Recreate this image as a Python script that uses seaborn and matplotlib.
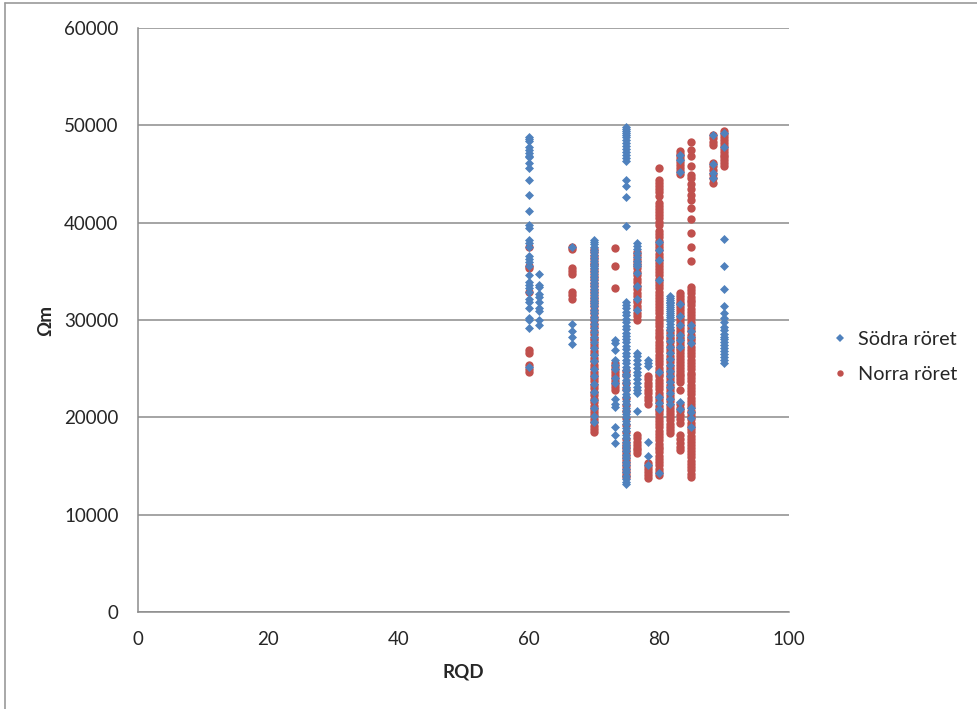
import matplotlib
matplotlib.use("Agg")
import matplotlib.pyplot as plt
from matplotlib.lines import Line2D
import seaborn as sns
import pandas as pd

# ---------------- data ----------------
series_names = ["Södra röret", "Norra röret"]
x_ticks = [0, 20, 40, 60, 80, 100]
y_ticks = [0, 10000, 20000, 30000, 40000, 50000, 60000]

# Södra röret (blue) – Ωm values per RQD level
sodra_60 = [48800, 48600, 48400, 47800, 47500, 47200, 46900, 46700, 46100, 45600, 44400, 42800,
            41200, 39800, 39500, 38200, 37900, 37500, 36600, 36300, 36000, 35500, 34600, 33900,
            33600, 33300, 32900, 32200, 31900, 31200, 30200, 30000, 29200, 25200]
sodra_61 = [34700, 33600, 33400, 32700, 32400, 31900, 31200, 30900, 30000, 29500]
sodra_66 = [37500, 29600, 28900, 28300, 27500]
sodra_70 = [38200, 38000, 37800, 37500, 37200, 37000, 36700, 36400, 36100, 35800, 35500, 35300,
            35000, 34700, 34400, 34100, 33800, 33500, 33200, 32900, 32600, 32300, 32000, 31700,
            31400, 31000, 30700, 30300, 30000, 29600, 29200, 28800, 28300, 27700, 27100, 26400,
            25800, 25000, 24200, 23400, 22600, 21800, 21000, 20100, 19500]
sodra_73 = [27900, 27600, 26900, 25900, 25400, 25000, 24000, 23500, 21900, 21400, 21100, 19000,
            18200, 17400]
sodra_75 = [49800, 49600, 49400, 49200, 49000, 48800, 48500, 48200, 47900, 47600, 47300, 47000,
            46600, 46300, 44400, 43800, 42600, 39700,
            31900, 31500, 31200, 30800, 30500, 30100, 29800, 29400, 29100, 28700, 28400, 28000,
            27700, 27300, 27000, 26600, 26300, 25900, 25600, 25200, 24900, 24500, 24200, 23800,
            23500, 23100, 22800, 22400, 22100, 21700, 21400, 21000, 20700, 20300, 20000, 19600,
            19300, 18900, 18600, 18200, 17900, 17500, 17200, 16800, 16500, 16100, 15800, 15400,
            15100, 14700, 14400, 14000, 13700, 13400, 13200]
sodra_76 = [37900, 37600, 37300, 36900, 36500, 36100, 35800, 35500, 34800, 33500, 32200, 31000,
            26600, 26300, 25900, 25500, 25100, 24700, 24300, 23900, 23500, 23100, 22800, 22500,
            20600]
sodra_78 = [25900, 25600, 25300, 17500, 16000, 15100]
sodra_80 = [38000, 37200, 36200, 34100, 24700, 22100, 21500, 20900, 14300]
sodra_81 = [32500, 32300, 32100, 31900, 31700, 31500, 31300, 31100, 30900, 30700, 30500, 30300,
            30100, 29900, 29600, 29300, 29000, 28500, 27800, 27200, 26600, 26000, 25400, 24800,
            24200, 23600, 23100, 22500, 21900, 21400]
sodra_83 = [47000, 46400, 45200, 31600, 30400, 29500, 28500, 27900, 27200, 21600, 20900]
sodra_85 = [29500, 28900, 28300, 27600, 21000, 20500, 19900, 19000]
sodra_88 = [49000, 46000, 45100, 44600]
sodra_90 = [49200, 47800, 38300, 35500, 33200, 31400, 30700, 30200, 29800, 29300, 29000, 28600,
            28300, 28000, 27700, 27400, 27100, 26800, 26500, 26200, 25900, 25600]

# Norra röret (red)
norra_60 = [37500, 35500, 35300, 32900, 26900, 26600, 25400, 25000, 24700]
norra_66 = [37500, 37300, 35300, 35000, 34700, 32900, 32600, 32200]
norra_70 = [37300, 37000, 36600, 36300, 35900, 35600, 35200, 34900, 34500, 34200, 33800, 33500,
            33100, 32800, 32400, 32100, 31700, 31400, 31000, 30700, 30300, 30000, 29600, 29300,
            28900, 28600, 28200, 27900, 27500, 27200, 26800, 26500, 26100, 25800, 25400, 25100,
            24700, 24400, 24000, 23700, 23300, 23000, 22600, 22300, 21900, 21600, 21200, 20900,
            20500, 20200, 19800, 19500, 19100, 18800, 18500]
norra_73 = [37400, 35500, 33300, 25600, 25300, 25000, 24700, 24400, 24000, 23700, 23400, 23100,
            22800]
norra_75 = [24800, 24300, 23500, 22900, 22000, 21300, 20600, 19900, 19200, 18500, 17800, 17400,
            17100, 16800, 16500, 16200, 15900, 15600, 15300, 15000, 14700, 14400, 14100, 13900]
norra_76 = [37000, 36700, 36300, 36000, 35600, 35300, 34900, 34600, 34200, 33900, 33500, 33200,
            32800, 32500, 32100, 31800, 31400, 31100, 30700, 30400, 30000,
            18200, 17900, 17500, 17200, 16900, 16600, 16300]
norra_78 = [24200, 23900, 23500, 23200, 22800, 22500, 22100, 21800, 21400,
            15300, 15000, 14700, 14400, 14100, 13800]
norra_80 = [45600, 44400, 44100, 43800, 43500, 43200, 42700, 42000, 41700, 41400, 41100, 40800,
            40500, 40100, 39800,
            39100, 38800, 38500, 38100, 37800, 37500, 37200, 36800, 36500, 36200, 35900, 35500,
            35200, 34900, 34600, 34200, 33900, 33600, 33300, 32900, 32600, 32300, 32000, 31600,
            31300, 31000, 30700, 30300, 30000, 29700, 29400, 29000, 28700, 28400, 28100, 27700,
            27400, 27100, 26800, 26400, 26100, 25800, 25500, 25100, 24800, 24500, 24200, 23800,
            23500, 23200, 22900, 22500, 22200, 21900, 21600, 21200, 20900, 20600, 20300, 19900,
            19600, 19300, 19000, 18600, 18300, 18000, 17700, 17300, 17000, 16700, 16400, 16000,
            15700, 15400, 15100, 14700, 14400, 14100]
norra_81 = [29000, 28700, 28300, 28000, 27700, 27300, 27000, 26700, 26300, 26000, 25700, 25300,
            25000, 24700, 24300, 24000, 23700, 23300, 23000, 22700, 22300, 22000, 21700, 21300,
            21000, 20700, 20300, 20000, 19700, 19300, 19000, 18700, 18400]
norra_83 = [47400, 47100, 46800, 46500, 46200, 45900, 45600, 45300, 45000,
            32800, 32500, 32200, 31900, 31600, 31300, 31000, 30700, 30400, 30100, 29800, 29500,
            29200, 28900, 28600, 28300, 28000, 27700, 27400, 27100, 26900, 26600, 26300, 26000,
            25700, 25400, 25100, 24800, 24500, 24200, 23900, 23600,
            22800, 21400, 21000, 20600, 20200, 19800, 19400, 18200, 17800, 17400, 17000, 16600]
norra_85 = [48300, 47500, 46800, 45800, 44900, 44600, 44000, 43500, 42800, 42300, 41500, 40400,
            38900, 37500, 36100,
            33400, 33100, 32800, 32400, 32100, 31800, 31500, 31100, 30800, 30500, 30200, 29800,
            29500, 29200, 28900, 28500, 28200, 27900, 27600, 27200, 26900, 26600, 26300, 25900,
            25600, 25300, 25000, 24600, 24300, 24000, 23700, 23300, 23000, 22700, 22400, 22000,
            21700, 21400, 21100, 20700, 20400, 20100, 19800, 19400, 19100, 18800, 18500, 18100,
            17800, 17500, 17200, 16800, 16500, 16200, 15900, 15500, 15200, 14900, 14600, 14200,
            13900]
norra_88 = [49000, 48700, 48300, 48000, 46100, 45800, 45400, 45000, 44600, 44100]
norra_90 = [49400, 49100, 48800, 48500, 48200, 47900, 47600, 47300, 47000, 46700, 46400, 46100,
            45800]

sodra_groups = [(60, sodra_60), (61.67, sodra_61), (66.67, sodra_66), (70, sodra_70),
                (73.33, sodra_73), (75, sodra_75), (76.67, sodra_76), (78.33, sodra_78),
                (80, sodra_80), (81.67, sodra_81), (83.33, sodra_83), (85, sodra_85),
                (88.33, sodra_88), (90, sodra_90)]
norra_groups = [(60, norra_60), (66.67, norra_66), (70, norra_70), (73.33, norra_73),
                (75, norra_75), (76.67, norra_76), (78.33, norra_78), (80, norra_80),
                (81.67, norra_81), (83.33, norra_83), (85, norra_85), (88.33, norra_88),
                (90, norra_90)]


def to_frame(groups, name):
    rows = [(x, v, name) for x, vals in groups for v in vals]
    return pd.DataFrame(rows, columns=["RQD", "Ωm", "serie"])


df_s = to_frame(sodra_groups, series_names[0])
df_n = to_frame(norra_groups, series_names[1])

# ---------------- styling ----------------
sns.set_theme(style="white")
plt.rcParams["font.family"] = ["Lato", "DejaVu Sans"]

BLUE = "#4F81BD"
RED = "#C0504D"
GRID = "#8C8C8C"
TXT = "#262626"

fig = plt.figure(figsize=(9.77, 7.09), dpi=100)
ax = fig.add_axes([138 / 977, 97 / 709, 651 / 977, 584 / 709])

sns.scatterplot(data=df_n, x="RQD", y="Ωm", color=RED, marker="o", s=36, linewidth=0,
                ax=ax, legend=False, zorder=3)
sns.scatterplot(data=df_s, x="RQD", y="Ωm", color=BLUE, marker="D", s=21, linewidth=0,
                ax=ax, legend=False, zorder=4)

ax.set_xlim(0, 100)
ax.set_ylim(0, 60000)
ax.set_xticks(x_ticks)
ax.set_yticks(y_ticks)
ax.set_xticklabels([str(t) for t in x_ticks])
ax.set_yticklabels([str(t) for t in y_ticks])
ax.tick_params(axis="both", length=0, pad=14, labelsize=13.5, colors=TXT)

ax.grid(axis="y", color=GRID, linewidth=1.1)
ax.grid(axis="x", visible=False)
ax.set_axisbelow(True)
for side in ["top", "right"]:
    ax.spines[side].set_visible(False)
for side in ["left", "bottom"]:
    ax.spines[side].set_color(GRID)
    ax.spines[side].set_linewidth(1.1)

ax.set_xlabel("RQD", fontsize=13.5, fontweight="bold", color=TXT)
ax.set_ylabel("Ωm", fontsize=13.5, fontweight="bold", color=TXT)
ax.xaxis.set_label_coords(0.5, -0.088)
ax.yaxis.set_label_coords(-0.128, 0.5)

handles = [Line2D([], [], linestyle="none", marker="D", color=BLUE, markersize=3.6,
                  markeredgewidth=0),
           Line2D([], [], linestyle="none", marker="o", color=RED, markersize=4.6,
                  markeredgewidth=0)]
leg = fig.legend(handles, series_names, loc="center left",
                 bbox_to_anchor=(832 / 977, (709 - 357) / 709), frameon=False,
                 fontsize=14.3, handlelength=0.8, handletextpad=0.5, labelspacing=0.95,
                 borderpad=0, borderaxespad=0)
for t in leg.get_texts():
    t.set_color(TXT)

# outer chart frame (top and left edges visible in the reference)
fig.add_artist(Line2D([5 / 977, 1], [1 - 3 / 709, 1 - 3 / 709], transform=fig.transFigure,
                      color="#9A9A9A", linewidth=1.2))
fig.add_artist(Line2D([5 / 977, 5 / 977], [0, 1 - 3 / 709], transform=fig.transFigure,
                      color="#9A9A9A", linewidth=1.2))

fig.savefig("out.png", dpi=100)
